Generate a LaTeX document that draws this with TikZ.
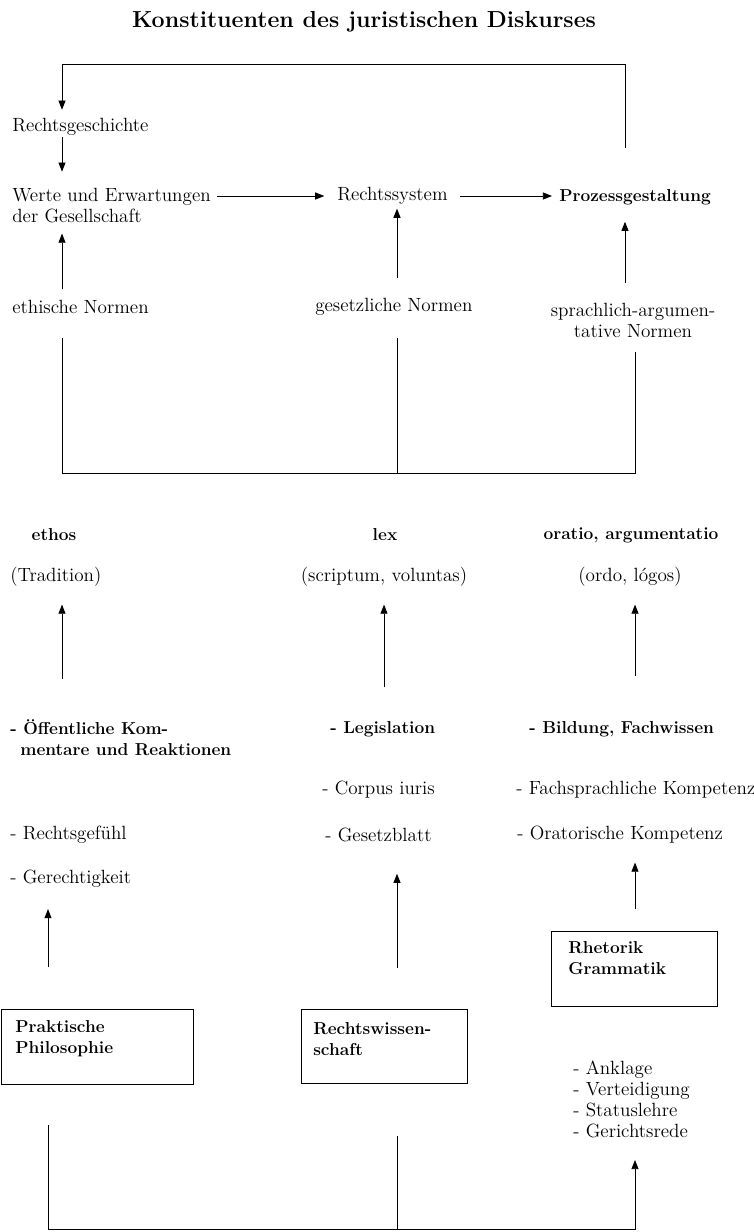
\documentclass[tikz,border=0pt]{standalone}
\usepackage{fontspec}
\usetikzlibrary{calc,arrows.meta}

\newcommand{\grund}{\fontsize{13.6}{15}\selectfont}
\newcommand{\grundfett}{\fontsize{12.3}{15}\selectfont\bfseries}

\tikzset{
  txt/.style={inner sep=0pt, anchor=west, align=left, font=\grund},
  fett/.style={txt, font=\grundfett},
  titel/.style={inner sep=0pt, font=\fontsize{16.5}{19}\selectfont\bfseries},
  pfeil/.style={-{Triangle[length=6.5pt,width=5pt]}, line width=0.6pt},
  linie/.style={line width=0.6pt},
  kasten/.style={draw, line width=0.7pt, inner sep=0pt, anchor=north west}
}

\begin{document}
\begin{tikzpicture}[x=0.025cm, y=-0.025cm]
  \useasboundingbox (0,0) rectangle (754,1232);

  % Spalten und Zeilen fuer die Verbindungen
  \coordinate (sA) at (62,0);
  \coordinate (sB) at (397,0);
  \coordinate (sC) at (625,0);
  \coordinate (sA2) at (48,0);
  \coordinate (sB2) at (384,0);
  \coordinate (sC2) at (635,0);
  \coordinate (zOben) at (0,64);
  \coordinate (zMitte) at (0,473);
  \coordinate (zUnten) at (0,1229);

  \node[titel] (titel) at (364,22) {Konstituenten des juristischen Diskurses};

  % obere Ebene
  \node[txt] (rg) at (12,127) {Rechtsgeschichte};
  \node[txt] (werte) at (12,205.5) {Werte und Erwartungen\\der Gesellschaft};
  \node[txt] (rs) at (337,196) {Rechtssystem};
  \node[fett] (pg) at (559,197) {Prozessgestaltung};
  \node[txt] (ethn) at (12,307) {ethische Normen};
  \node[txt] (gesn) at (315,307) {gesetzliche Normen};
  \node[txt, anchor=center, align=center] (sprn) at (633,320) {sprachlich-argumen-\\tative Normen};

  % Grundbegriffe
  \node[fett, anchor=center] (ethos) at (54,535) {ethos};
  \node[fett, anchor=center] (lex) at (385,535) {lex};
  \node[fett, anchor=center] (oratio) at (631,535) {oratio, argumentatio};
  \node[txt] (trad) at (10,577) {(Tradition)};
  \node[txt, anchor=center] (scrip) at (384,577) {(scriptum, voluntas)};
  \node[txt, anchor=center] (ordo) at (630,577) {(ordo, lógos)};

  % Traeger
  \node[fett] (oeff) at (10,738) {- Öffentliche Kom-\\\hspace*{0.25cm}mentare und Reaktionen};
  \node[fett] (legis) at (330,729) {- Legislation};
  \node[fett] (bild) at (529,729) {- Bildung, Fachwissen};
  \node[txt] (corp) at (322,790) {- Corpus iuris};
  \node[txt] (fach) at (516,790) {- Fachsprachliche Kompetenz};
  \node[txt] (rgef) at (10,835) {- Rechtsgefühl};
  \node[txt] (gbl) at (325,835) {- Gesetzblatt};
  \node[txt] (orat) at (517,835) {- Oratorische Kompetenz};
  \node[txt] (gerecht) at (10,879) {- Gerechtigkeit};

  % Kaesten
  \node[kasten, minimum width=4.8cm, minimum height=1.875cm] (ppbox) at (1,1009) {};
  \node[kasten, minimum width=4.15cm, minimum height=1.85cm] (rwbox) at (301,1009) {};
  \node[kasten, minimum width=4.15cm, minimum height=1.875cm] (rgbox) at (551,931) {};
  \node[fett] (pptxt) at ($(ppbox.west)+(14,-8)$) {Praktische\\Philosophie};
  \node[fett] (rwtxt) at ($(rwbox.west)+(12,-7.5)$) {Rechtswissen-\\schaft};
  \node[fett] (rgtxt) at ($(rgbox.west)+(17,-10.5)$) {Rhetorik\\Grammatik};
  \node[txt] (liste) at (573,1099.5) {- Anklage\\- Verteidigung\\- Statuslehre\\- Gerichtsrede};

  % oberer Ruecklauf
  \draw[pfeil, shorten <=29pt, shorten >=6pt] (pg.north -| sC) -- (sC |- zOben) -- (sA |- zOben) -- (rg.north -| sA);
  \draw[pfeil, shorten <=1pt, shorten >=11.5pt] (rg.south -| sA) -- (werte.north -| sA);
  \draw[pfeil, shorten <=4pt, shorten >=9pt] (werte.east |- rs.west) -- (rs.west);
  \draw[pfeil, shorten <=8.5pt, shorten >=5pt] (rs.east) -- (pg.west |- rs.east);
  \draw[pfeil, shorten <=7.5pt, shorten >=7.4pt] (ethn.north -| sA) -- (werte.south -| sA);
  \draw[pfeil, shorten <=14pt, shorten >=2.7pt] (gesn.north -| sB) -- (rs.south -| sB);
  \draw[pfeil, shorten <=14pt, shorten >=11.9pt] (sprn.north -| sC) -- (pg.south -| sC);

  % mittlere Klammer
  \draw[linie, shorten <=16.7pt, shorten >=10.3pt] (ethn.south -| sA) -- (sA |- zMitte) -- (sC2 |- zMitte) -- (sprn.south -| sC2);
  \draw[linie, shorten <=16pt] (gesn.south -| sB) -- (sB |- zMitte);

  % Pfeile zu den Grundbegriffen
  \draw[pfeil, shorten <=29pt, shorten >=12.6pt] (oeff.north -| sA) -- (trad.south -| sA);
  \draw[pfeil, shorten <=24pt, shorten >=12.6pt] (legis.north -| sB2) -- (scrip.south -| sB2);
  \draw[pfeil, shorten <=31.7pt, shorten >=12.6pt] (bild.north -| sC2) -- (ordo.south -| sC2);

  % Pfeile aus den Kaesten
  \draw[pfeil, shorten <=29.8pt, shorten >=15pt] (ppbox.north -| sA2) -- (gerecht.south -| sA2);
  \draw[pfeil, shorten <=29pt, shorten >=22.4pt] (rwbox.north -| sB) -- (gbl.south -| sB);
  \draw[pfeil, shorten <=15.6pt, shorten >=13.3pt] (rgbox.north -| sC2) -- (orat.south -| sC2);

  % untere Klammer
  \draw[pfeil, shorten <=28.3pt, shorten >=15.3pt] (ppbox.south -| sA2) -- (sA2 |- zUnten) -- (sC2 |- zUnten) -- (liste.south -| sC2);
  \draw[linie, shorten <=36.8pt] (rwbox.south -| sB) -- (sB |- zUnten);
\end{tikzpicture}
\end{document}
